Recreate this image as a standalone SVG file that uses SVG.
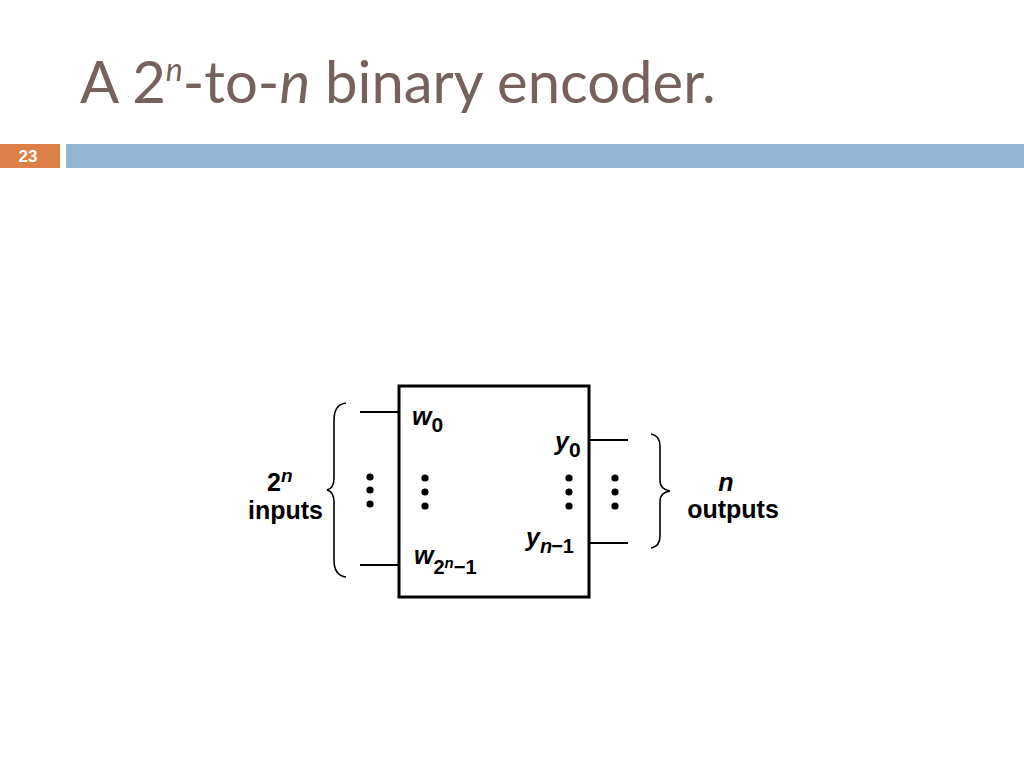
<svg xmlns="http://www.w3.org/2000/svg" width="1024" height="768" viewBox="0 0 1024 768">
<style>
.title{font-family:Lato,"Open Sans","Liberation Sans",sans-serif;font-size:58px;fill:#76625C}
.lbl{font-family:"Liberation Sans",Arial,sans-serif;font-weight:bold;font-size:25px;fill:#000}
.it{font-style:italic}
.wire{stroke:#000;stroke-width:2;fill:none}
.brace{stroke:#000;stroke-width:1.6;fill:none}
.dot{fill:#000}
</style>
<rect width="1024" height="768" fill="#fff"/>
<g id="title">
<text class="title" x="80" y="103">A 2<tspan dy="-22" font-size="32" class="it">n</tspan><tspan dy="22">-to-</tspan><tspan class="it">n</tspan> binary encoder.</text>
</g>
<g id="header-bar">
<rect x="0" y="144" width="60" height="24" fill="#DD8047"/>
<text x="28" y="162" text-anchor="middle" font-family="'Liberation Sans',sans-serif" font-weight="bold" font-size="17" fill="#fff">23</text>
<rect x="66" y="144" width="958" height="24" fill="#94B6D2"/>
</g>
<g id="encoder">
<rect x="399" y="386" width="190" height="211" fill="#fff" stroke="#000" stroke-width="3"/>
<text class="lbl it" x="412" y="425">w<tspan font-style="normal" dy="7" font-size="21">0</tspan></text>
<text class="lbl it" x="555" y="450">y<tspan font-style="normal" dy="7" font-size="21">0</tspan></text>
<text class="lbl it" x="526" y="546">y<tspan dy="7" font-size="20">n</tspan><tspan font-style="normal" font-size="20" dx="-1">−1</tspan></text>
<text class="lbl it" x="414" y="564">w<tspan font-style="normal" dy="10" font-size="20">2</tspan><tspan dy="-6" font-size="15">n</tspan><tspan dy="6" font-style="normal" font-size="20">−1</tspan></text>
<circle class="dot" cx="425" cy="478" r="3.6"/>
<circle class="dot" cx="425" cy="492" r="3.6"/>
<circle class="dot" cx="425" cy="506" r="3.6"/>
<circle class="dot" cx="569" cy="478" r="3.6"/>
<circle class="dot" cx="569" cy="492" r="3.6"/>
<circle class="dot" cx="569" cy="506" r="3.6"/>
</g>
<g id="inputs">
<path class="brace" d="M346,403 C338,404 334,410 334,420 L334,478 C334,485 331,489 327,490 C331,491 334,495 334,502 L334,560 C334,570 338,576 346,577"/>
<text class="lbl" x="267" y="491">2<tspan class="it" dy="-9" font-size="19">n</tspan></text>
<text class="lbl" x="248" y="519">inputs</text>
<circle class="dot" cx="370" cy="477" r="3.6"/>
<circle class="dot" cx="370" cy="490" r="3.6"/>
<circle class="dot" cx="370" cy="504" r="3.6"/>
</g>
<g id="outputs">
<path class="brace" d="M651,434 C657,435 660,439 660,446 L660,481 C660,487 664,490 670,491 C664,492 660,495 660,501 L660,536 C660,543 657,547 651,548"/>
<text class="lbl it" x="726" y="491" text-anchor="middle">n</text>
<text class="lbl" x="733" y="518" text-anchor="middle">outputs</text>
<circle class="dot" cx="615" cy="478" r="3.6"/>
<circle class="dot" cx="615" cy="492" r="3.6"/>
<circle class="dot" cx="615" cy="506" r="3.6"/>
</g>
<g id="connectors">
<line class="wire" x1="360" y1="412" x2="399" y2="412"/>
<line class="wire" x1="360" y1="565" x2="399" y2="565"/>
<line class="wire" x1="589" y1="440" x2="628" y2="440"/>
<line class="wire" x1="589" y1="543" x2="628" y2="543"/>
</g>
</svg>
